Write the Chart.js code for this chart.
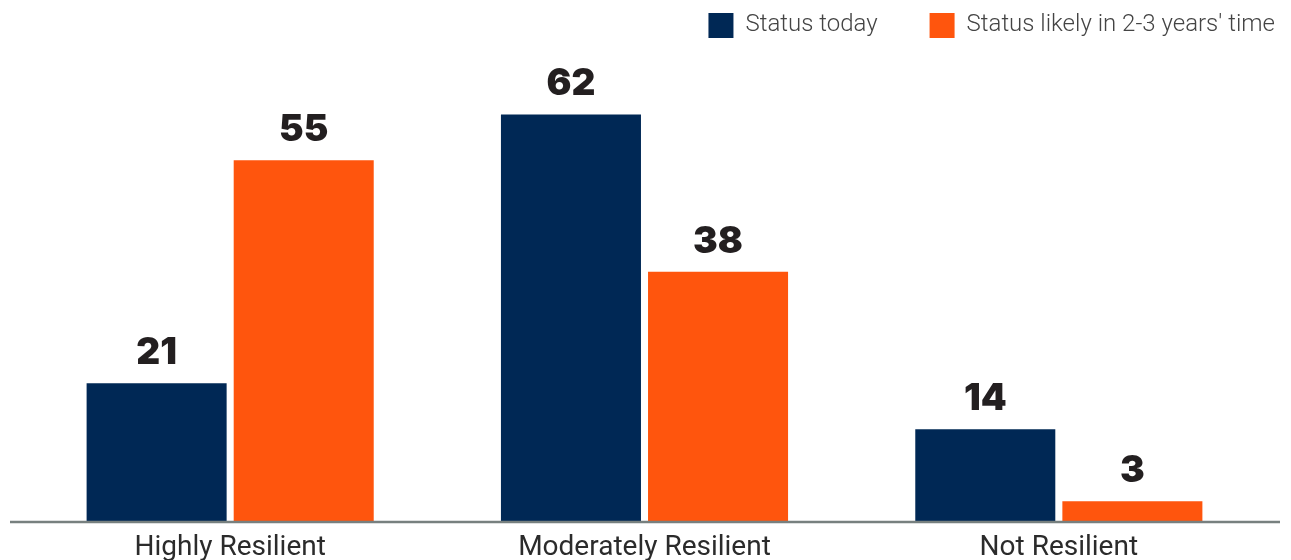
<!DOCTYPE html>
<html>
<head>
<meta charset="utf-8">
<script src="https://cdn.jsdelivr.net/npm/chart.js@4.4.0/dist/chart.umd.min.js"></script>
<style>
  html, body { margin: 0; padding: 0; background: #fff; }
  #wrap { width: 1291px; height: 560px; }
</style>
</head>
<body>
<div id="wrap"><canvas id="resilienceChart" width="1291" height="560"></canvas></div>
<script>
// data
const categories = ['Highly Resilient', 'Moderately Resilient', 'Not Resilient'];
const statusToday = [21, 62, 14];
const statusLater = [55, 38, 3];
const seriesNames = ['Status today', "Status likely in 2-3 years' time"];

const NAVY = '#002855';
const ORANGE = '#ff550d';

// value labels above each bar
const valueLabels = {
    id: 'valueLabels',
    afterDatasetsDraw(chart) {
        const ctx = chart.ctx;
        ctx.save();
        ctx.font = '900 37px Inter';
        ctx.fillStyle = '#231f20';
        ctx.textAlign = 'center';
        ctx.textBaseline = 'alphabetic';
        chart.data.datasets.forEach((ds, i) => {
            chart.getDatasetMeta(i).data.forEach((bar, j) => {
                ctx.fillText(ds.data[j], bar.x, bar.y - 19);
            });
        });
        ctx.restore();
    }
};

// base line, a bit wider than the plot area
const baseLine = {
    id: 'baseLine',
    afterDatasetsDraw(chart) {
        const ctx = chart.ctx;
        const y = chart.scales.y.getPixelForValue(0);
        ctx.save();
        ctx.strokeStyle = '#77807f';
        ctx.lineWidth = 2.5;
        ctx.beginPath();
        ctx.moveTo(chart.chartArea.left - 13, y + 1);
        ctx.lineTo(chart.chartArea.right + 14, y + 1);
        ctx.stroke();
        ctx.restore();
    }
};

// legend in the top right corner
const topLegend = {
    id: 'topLegend',
    afterDraw(chart) {
        const ctx = chart.ctx;
        ctx.save();
        ctx.font = '300 24px Roboto';
        ctx.textBaseline = 'middle';
        let x = 1275;
        const items = chart.data.datasets.slice().reverse();
        items.forEach((ds) => {
            const w = ctx.measureText(ds.label).width;
            x -= w;
            ctx.fillStyle = '#444';
            ctx.fillText(ds.label, x, 25);
            x -= 12 + 25;
            ctx.fillStyle = ds.backgroundColor;
            ctx.fillRect(x, 13, 25, 25);
            x -= 52;
        });
        ctx.restore();
    }
};

new Chart(document.getElementById('resilienceChart').getContext('2d'), {
    type: 'bar',
    data: {
        labels: categories,
        datasets: [{
            label: seriesNames[0],
            data: statusToday,
            backgroundColor: NAVY
        }, {
            label: seriesNames[1],
            data: statusLater,
            backgroundColor: ORANGE
        }]
    },
    options: {
        responsive: false,
        animation: false,
        categoryPercentage: 0.71,
        barPercentage: 0.952,
        layout: {
            padding: { top: 62, left: 23, right: 25, bottom: 0 }
        },
        scales: {
            x: {
                grid: { display: false, drawTicks: false },
                border: { display: false },
                ticks: {
                    color: '#2b2b2b',
                    font: { family: 'Roboto', size: 28 },
                    padding: 10
                },
                afterFit(scale) {
                    scale.height = 39;
                }
            },
            y: {
                display: false,
                min: 0,
                max: 70
            }
        },
        plugins: {
            legend: { display: false },
            tooltip: { enabled: false }
        }
    },
    plugins: [valueLabels, baseLine, topLegend]
});
</script>
</body>
</html>
